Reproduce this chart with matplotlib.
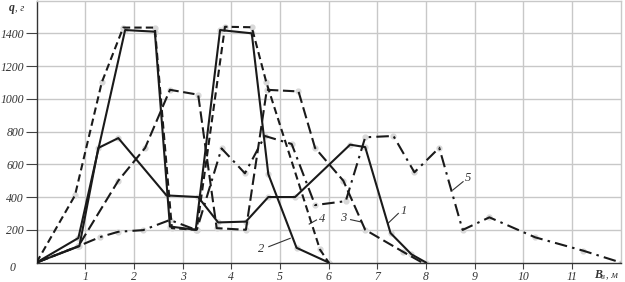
import matplotlib
matplotlib.use('Agg')
import matplotlib.pyplot as plt

plt.rcParams['font.family'] = ['Liberation Serif', 'DejaVu Serif']

# ширина захвата B, м  /  масса q, г
x1 = [0, 0.88, 1.27, 1.68, 2.67, 3.32, 3.73, 4.30, 4.76, 5.31, 6.44, 6.75, 7.27, 7.70, 8.0]
y1 = [0, 100, 700, 760, 410, 400, 245, 250, 400, 400, 720, 705, 180, 50, 0]

x2 = [0, 0.86, 1.82, 2.43, 2.74, 3.27, 3.77, 4.42, 4.76, 5.34, 6.0]
y2 = [0, 150, 1420, 1410, 220, 200, 1420, 1400, 540, 90, 0]

x3 = [0, 0.86, 1.68, 2.23, 2.74, 3.32, 3.70, 4.30, 4.73, 5.38, 5.72, 6.30, 6.75, 7.53, 7.92]
y3 = [0, 100, 500, 700, 1055, 1025, 210, 200, 1055, 1045, 700, 500, 200, 65, 0]

x4 = [0, 0.79, 1.34, 1.78, 2.43, 2.78, 3.29, 3.87, 4.42, 4.72, 5.82, 6.0]
y4 = [0, 410, 1100, 1435, 1435, 210, 200, 1440, 1437, 1100, 80, 0]

x5 = [0, 0.86, 1.30, 1.68, 2.19, 2.74, 3.29, 3.80, 4.28, 4.69, 5.24, 5.72, 6.35,
      6.75, 7.33, 7.76, 8.27, 8.75, 9.30, 10.24, 11.23, 12.0]
y5 = [0, 100, 155, 188, 198, 260, 198, 697, 545, 773, 724, 351, 375,
      765, 773, 551, 701, 199, 276, 154, 72, 0]

xticks = [1, 2, 3, 4, 5, 6, 7, 8, 9, 10, 11]
yticks = [200, 400, 600, 800, 1000, 1200, 1400]

# подписи кривых: (номер, текст x, y, начало выноски, конец выноски)
labels = [
    ('1', 7.54, 316, (7.43, 300), (7.22, 240)),
    ('2', 4.61, 81, (4.77, 97), (5.21, 148)),
    ('3', 6.29, 270, (6.45, 262), (6.68, 247)),
    ('4', 5.86, 266, (5.75, 260), (5.60, 235)),
    ('5', 8.85, 518, (8.76, 494), (8.55, 443)),
]

fig = plt.figure(figsize=(6.25, 2.82), dpi=100)
ax = fig.add_axes([0.0584, 0.069, 0.935, 0.929])

ink = '#1a1a1a'
styles = [
    (x1, y1, '-'),
    (x2, y2, '-'),
    (x3, y3, (0, (5.5, 2.2))),
    (x4, y4, (0, (3.5, 2))),
    (x5, y5, (0, (6, 2.5, 1.2, 2.5))),
]
for xs, ys, ls in styles:
    ax.plot(xs, ys, 'o', color='#d9d9d9', markersize=3.5, zorder=2)
    ax.plot(xs, ys, color=ink, linestyle=ls, linewidth=1.5, zorder=3)

for txt, tx, ty, p0, p1 in labels:
    ax.text(tx, ty, txt, fontsize=9, style='italic', color='#333333',
            ha='center', va='center')
    ax.plot([p0[0], p1[0]], [p0[1], p1[1]], color='#333333', linewidth=0.8)

ax.set_xlim(0, 12)
ax.set_ylim(0, 1600)
ax.set_xticks(xticks)
ax.set_xticklabels([str(v) for v in xticks], fontsize=8.5, style='italic', color='#333333')
ax.set_yticks(yticks)
ax.set_yticklabels([str(v) for v in yticks], fontsize=8.5, style='italic', color='#333333')
ax.tick_params(axis='y', length=8, width=0.8, color='#444444', pad=1)
ax.tick_params(axis='x', length=4, width=0.8, color='#444444', pad=2)

ax.grid(True, color='#c8c8c8', linewidth=1.0, zorder=0)
ax.set_axisbelow(True)
for side in ['top', 'right']:
    ax.spines[side].set_color('#c8c8c8')
    ax.spines[side].set_linewidth(1.0)
ax.spines['left'].set_color('#333333')
ax.spines['bottom'].set_color('#333333')
ax.spines['left'].set_linewidth(1.0)
ax.spines['bottom'].set_linewidth(1.0)

# подписи осей
fig.text(12 / 625, 1 - 268 / 282, '0', fontsize=8.5, style='italic', color='#333333',
         ha='center', va='center')
fig.text(9 / 625, 1 - 8 / 282, 'q', fontsize=8.5, style='italic', weight='bold',
         color='#333333', ha='left', va='center')
fig.text(15 / 625, 1 - 8 / 282, ', г', fontsize=7.5, style='italic',
         color='#333333', ha='left', va='center')
fig.text(594 / 625, 1 - 275 / 282, 'B', fontsize=8.5, style='italic', weight='bold',
         color='#333333', ha='left', va='center')
fig.text(601 / 625, 1 - 277 / 282, 'в', fontsize=6.5, style='italic',
         color='#333333', ha='left', va='center')
fig.text(606 / 625, 1 - 275 / 282, ', м', fontsize=7.5, style='italic',
         color='#333333', ha='left', va='center')

fig.savefig('out.png', dpi=100)
